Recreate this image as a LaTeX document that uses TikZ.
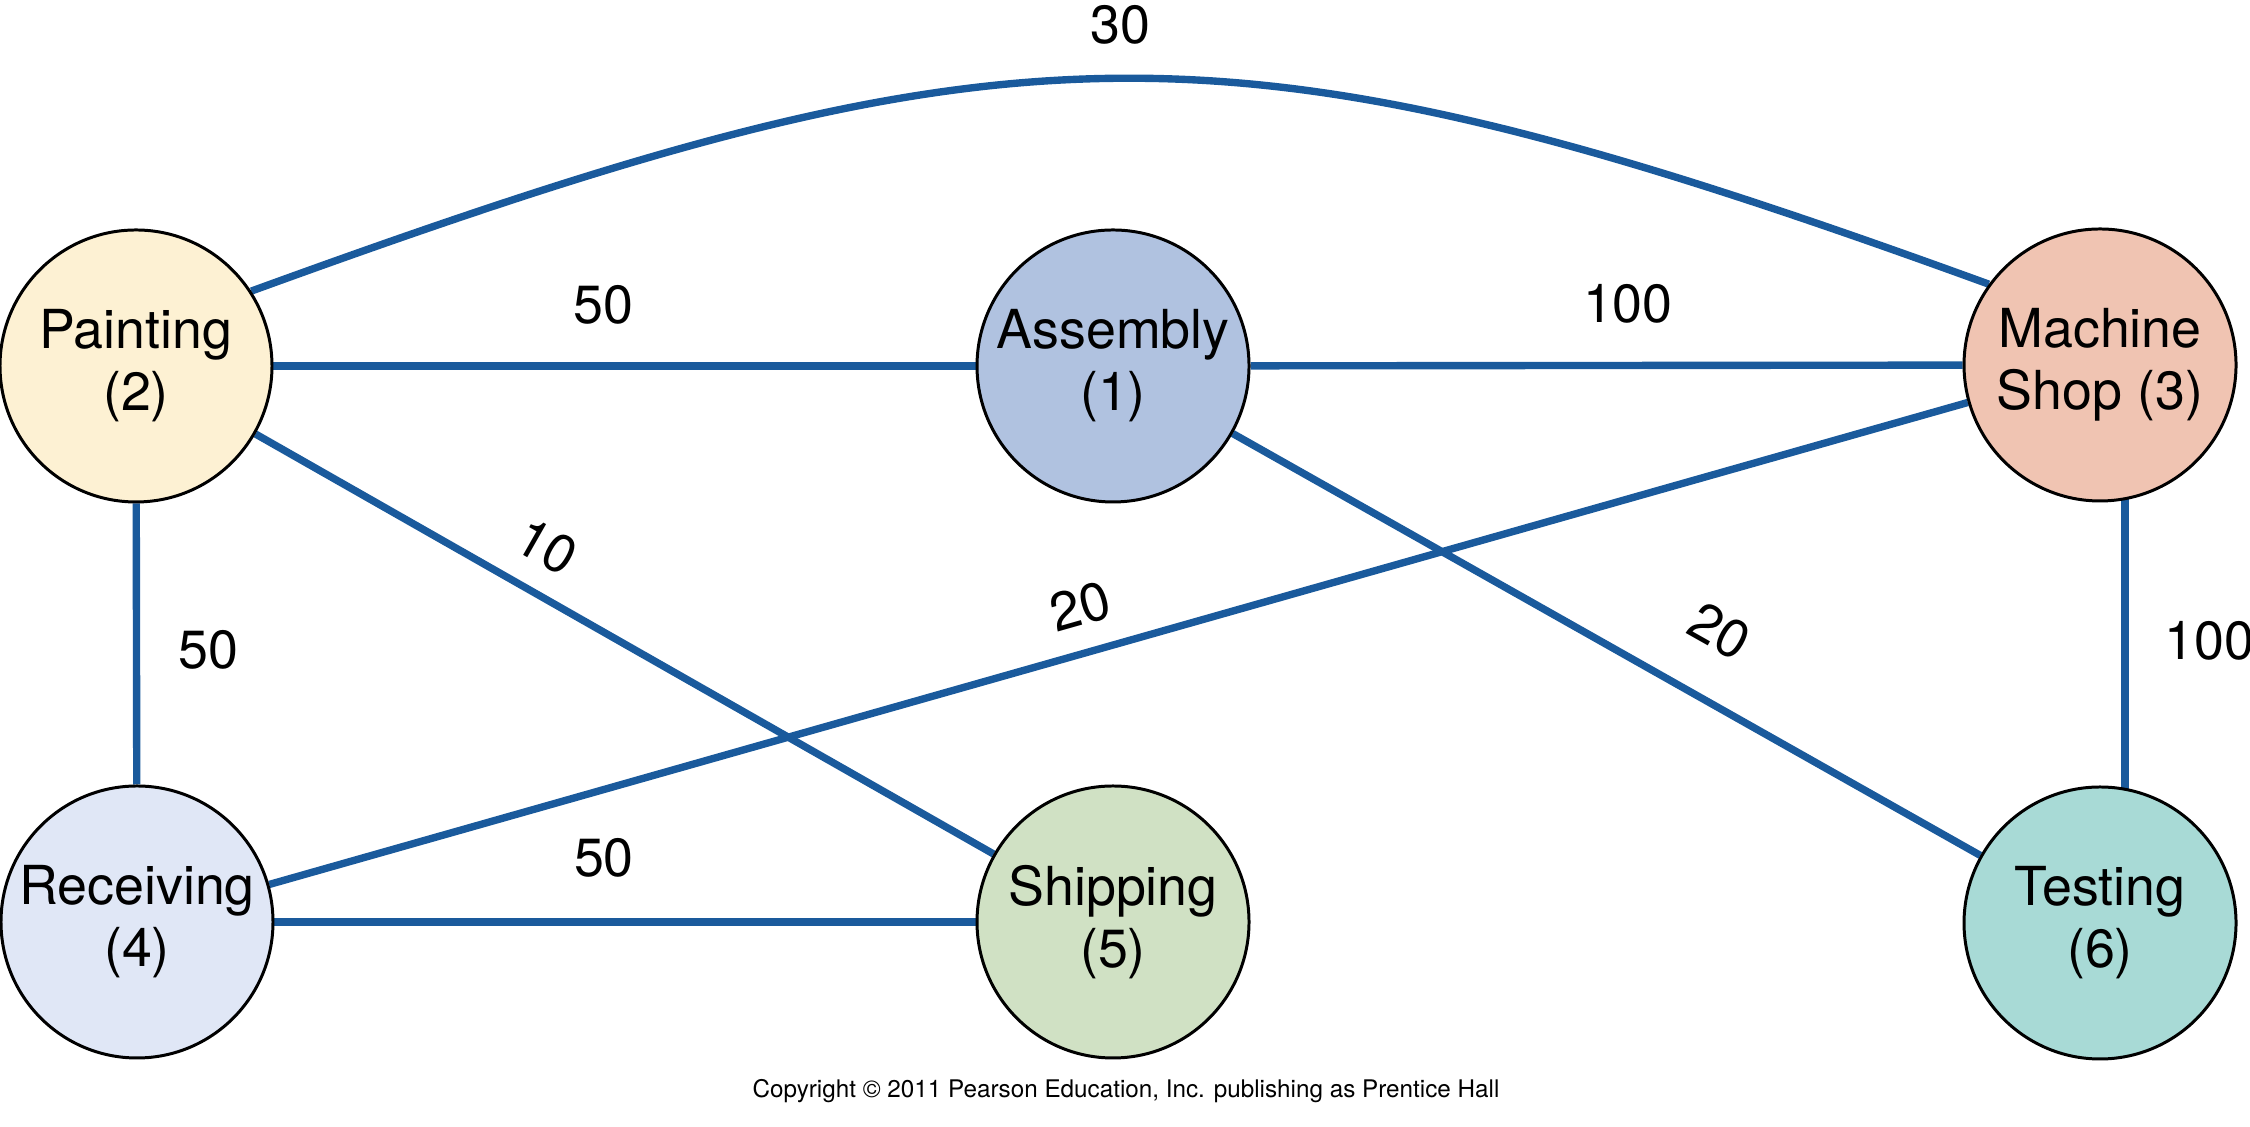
\documentclass[tikz,border=0pt]{standalone}
\usepackage{fontspec}
\setmainfont{TeX Gyre Heros}
\usetikzlibrary{backgrounds}
\definecolor{edgeblue}{HTML}{1A5A9C}
\definecolor{paintfill}{HTML}{FDF1D3}
\definecolor{asmfill}{HTML}{B0C2E0}
\definecolor{machfill}{HTML}{F0C4B2}
\definecolor{recvfill}{HTML}{E0E7F6}
\definecolor{shipfill}{HTML}{D0E1C4}
\definecolor{testfill}{HTML}{A8DAD6}
\begin{document}
\begin{tikzpicture}[
  dept/.style={draw, circle, line width=0.85pt, minimum size=2.72cm, inner sep=0pt,
    align=center, font=\fontsize{15.3}{17.6}\selectfont},
  flow/.style={draw=edgeblue, line width=2.1pt},
  wt/.style={inner sep=0pt, font=\fontsize{15.3}{17.6}\selectfont}]
  \useasboundingbox (0,0) rectangle (22.5,11.27);

  \node[dept, fill=paintfill] (paint) at (1.36,7.61) {Painting\\(2)};
  \node[dept, fill=asmfill] (asm) at (11.13,7.61) {Assembly\\(1)};
  \node[dept, fill=machfill] (mach) at (21.00,7.62) {Machine\\Shop (3)};
  \node[dept, fill=recvfill] (recv) at (1.37,2.05) {Receiving\\(4)};
  \node[dept, fill=shipfill] (ship) at (11.13,2.05) {Shipping\\(5)};
  \node[dept, fill=testfill] (test) at (21.00,2.04) {Testing\\(6)};

  \begin{scope}[on background layer]
    \draw[flow] (paint.33) to[out=20, in=160, looseness=1.2]
      node[wt, above=0.3cm, pos=0.5] {30} (mach.144);
    \draw[flow] (paint) -- node[wt, above=0.38cm, pos=0.47] {50} (asm);
    \draw[flow] (asm) -- node[wt, above=0.38cm, pos=0.53] {100} (mach);
    \draw[flow] (paint) -- node[wt, right=0.38cm, pos=0.52] {50} (recv);
    \draw[flow] (paint) -- node[wt, sloped, above=0.23cm, pos=0.364] {10} (ship);
    \draw[flow] (recv) -- node[wt, sloped, above=0.23cm, pos=0.485] {20} (mach);
    \draw[flow] (asm) -- node[wt, sloped, above=0.44cm, pos=0.607] {20} (test);
    \draw[flow] (recv) -- node[wt, above=0.41cm, pos=0.47] {50} (ship);
    \draw[flow] ([xshift=0.25cm]mach.center) --
      node[wt, right=0.36cm, pos=0.495] {100} ([xshift=0.25cm]test.center);
  \end{scope}

  \node[font=\fontsize{6.9}{8}\selectfont] (copy) at (11.26,0.36)
    {Copyright © 2011 Pearson Education, Inc. publishing as Prentice Hall};
\end{tikzpicture}
\end{document}
